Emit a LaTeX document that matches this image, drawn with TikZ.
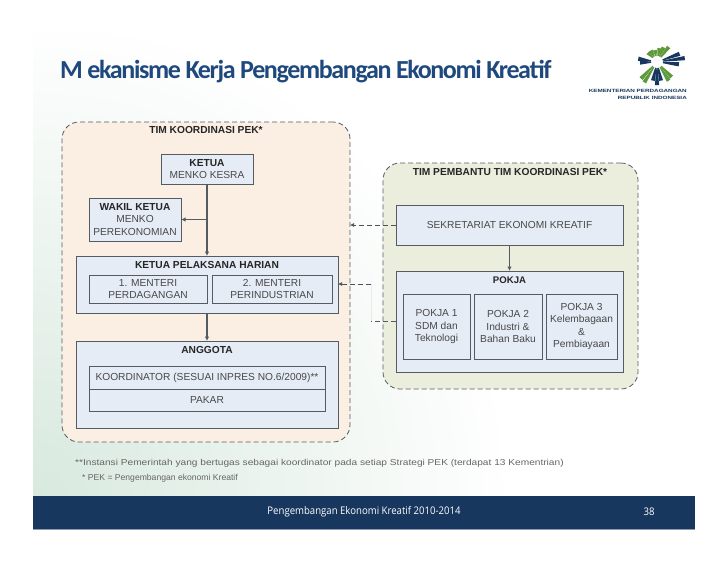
\documentclass[tikz,border=0pt]{standalone}
\usepackage{fontspec}
\setmainfont{Liberation Sans}
\newfontfamily\titlefont{Carlito}
\newfontfamily\footfont{Open Sans}
\usetikzlibrary{arrows.meta}
\definecolor{navy}{HTML}{17375E}
\definecolor{titleblue}{HTML}{1F497D}
\definecolor{peach}{HTML}{FBEFE4}
\definecolor{olive}{HTML}{EBEEDC}
\definecolor{boxblue}{HTML}{E6ECF6}
\definecolor{edge}{HTML}{555B62}
\definecolor{bodytxt}{HTML}{484848}
\definecolor{logogreen}{HTML}{5E9A3C}
\definecolor{bggreen}{HTML}{D8E9DE}
\tikzset{
  x=1pt,y=-1pt,
  box/.style={draw=edge,line width=0.95pt,fill=boxblue,inner sep=0pt,outer sep=0pt,align=center,text=bodytxt,font=\fontsize{10.2}{12.3}\selectfont},
  container/.style={draw=edge,dashed,dash pattern=on 5pt off 3pt,line width=0.8pt,rounded corners=17pt,inner sep=0pt,outer sep=0pt},
  flow/.style={draw=edge,line width=1.1pt,-{Latex[length=4.5pt,width=4.5pt]}},
  dflow/.style={draw=edge!90!black,line width=0.7pt,dash pattern=on 5pt off 3pt,-{Latex[length=4pt,width=4pt]}},
  head/.style={font=\fontsize{10.2}{11}\selectfont\bfseries,text=black!85,inner sep=0pt},
  note/.style={font=\fontsize{8.6}{10}\selectfont,text=black!60,inner sep=0pt,anchor=west}
}
\newcommand{\bt}[1]{{\color{black!85}\bfseries #1}}
\begin{document}
\begin{tikzpicture}
\useasboundingbox (0,0) rectangle (728,563);
\fill[white] (0,0) rectangle (728,563);
% slide background
\begin{scope}
\clip (33,33) rectangle (695,496);
\shade[inner color=bggreen,outer color=white] (33,496) circle (480);
\end{scope}
\node[fill=navy,minimum width=662,minimum height=33,inner sep=0pt,outer sep=0pt] (bar) at (364,512.5) {};
\draw[draw=navy!50,line width=0.8pt] (bar.south west) -- (bar.south east);
\node[inner sep=0pt,text=white] (foot) at (364,512) {\scalebox{0.914}[1]{\footfont\fontsize{10.5}{12}\selectfont Pengembangan Ekonomi Kreatif 2010-2014}};
\node[inner sep=0pt,text=white] (page) at (649,512) {\scalebox{0.914}[1]{\footfont\fontsize{10.5}{12}\selectfont 38}};
% title
\node[anchor=west,inner sep=0pt,text=titleblue] (title) at (60,72) {\titlefont\bfseries\fontsize{26}{30}\selectfont\addfontfeatures{LetterSpace=-5.2}M ekanisme Kerja Pengembangan Ekonomi Kreatif};
% logo
\begin{scope}[shift={(657,62)}]
\foreach \a/\c/\r in {-90/navy/23,-78/navy/19,-102/navy/19,-58/logogreen/22,-46/logogreen/21,-122/logogreen/24,-134/logogreen/23,
  8/navy/28,20/navy/24,-6/navy/22,170/navy/19,182/navy/17,52/logogreen/19,66/logogreen/16,80/logogreen/14,100/logogreen/12,118/logogreen/13,134/logogreen/13}{
  \fill[\c,rotate=\a] (6,-0.6) -- (\r,-2.1) -- (\r,2.1) -- (6,0.6) -- cycle;
}
\end{scope}
\node[anchor=east,inner sep=0pt,text=navy] (logo1) at (687,90.5) {\scalebox{1.37}[1]{\fontsize{4.6}{5}\selectfont\bfseries KEMENTERIAN PERDAGANGAN}};
\node[anchor=east,inner sep=0pt,text=navy] (logo2) at (687,98) {\scalebox{1.37}[1]{\fontsize{4.6}{5}\selectfont\bfseries REPUBLIK INDONESIA}};
% containers
\node[container,fill=peach,minimum width=288,minimum height=320] (tim) at (206,282) {};
\node[container,fill=olive,minimum width=255,minimum height=226] (bantu) at (510.5,276) {};
\node[head] (timh) at (206,130) {TIM KOORDINASI PEK*};
\node[head] (bantuh) at (510,172) {TIM PEMBANTU TIM KOORDINASI PEK*};
% left column
\node[box,minimum width=92,minimum height=30] (ketua) at (207,169) {\bt{KETUA}\\MENKO KESRA};
\node[box,minimum width=92,minimum height=43] (wakil) at (135,219.5) {\bt{WAKIL KETUA}\\MENKO\\PEREKONOMIAN};
\node[box,minimum width=262,minimum height=57] (kph) at (207,284.5) {};
\node[head] at (207,264.5) {KETUA PELAKSANA HARIAN};
\node[box,minimum width=118,minimum height=28] (m1) at (148,289) {1. MENTERI\\PERDAGANGAN};
\node[box,minimum width=120,minimum height=28] (m2) at (272,289) {2. MENTERI\\PERINDUSTRIAN};
\node[box,minimum width=262,minimum height=87] (anggota) at (207,384.5) {};
\node[head] at (207,350) {ANGGOTA};
\node[box,minimum width=236,minimum height=23] (koord) at (207,377.5) {KOORDINATOR (SESUAI INPRES NO.6/2009)**};
\node[box,minimum width=236,minimum height=22] (pakar) at (207,400) {PAKAR};
% right column
\node[box,minimum width=227,minimum height=40] (sek) at (509.5,225) {SEKRETARIAT EKONOMI KREATIF};
\node[box,minimum width=227,minimum height=101] (pokja) at (509.5,321.5) {};
\node[head,font=\fontsize{9.6}{11}\selectfont\bfseries] at (509.5,280) {POKJA};
\node[box,minimum width=67,minimum height=65] (p1) at (436.5,326.5) {POKJA 1\\SDM dan\\Teknologi};
\node[box,minimum width=68,minimum height=65] (p2) at (508,326.5) {POKJA 2\\Industri \&\\Bahan Baku};
\node[box,minimum width=71,minimum height=65] (p3) at (581.5,326.5) {POKJA 3\\Kelembagaan\\\&\\Pembiayaan};
% connectors
\draw[flow] (ketua.south) -- (kph.north);
\coordinate (wj) at (ketua.south |- wakil.east);
\draw[flow] (wj) -- (wakil.east);
\draw[flow] (kph.south) -- (anggota.north);
\draw[flow] (sek.south) -- (pokja.north);
\draw[dflow] (sek.west) -- (sek.west -| tim.east);
\coordinate (pj1) at (371,321);
\coordinate (pj2) at (371,284);
\draw[draw=edge,line width=0.7pt,dash pattern=on 5pt off 3pt] (pokja.west |- pj1) -- (pj1);
\draw[draw=black!8,line width=0.7pt] (pj1) -- (pj2);
\draw[dflow] (pj2) -- (pj2 -| kph.east);
% notes
\node[note] (n1) at (75,463) {\scalebox{1.18}[1]{**Instansi Pemerintah yang bertugas sebagai koordinator pada setiap Strategi PEK (terdapat 13 Kementrian)}};
\node[note] (n2) at (82,478.5) {* PEK = Pengembangan ekonomi Kreatif};
\end{tikzpicture}
\end{document}
